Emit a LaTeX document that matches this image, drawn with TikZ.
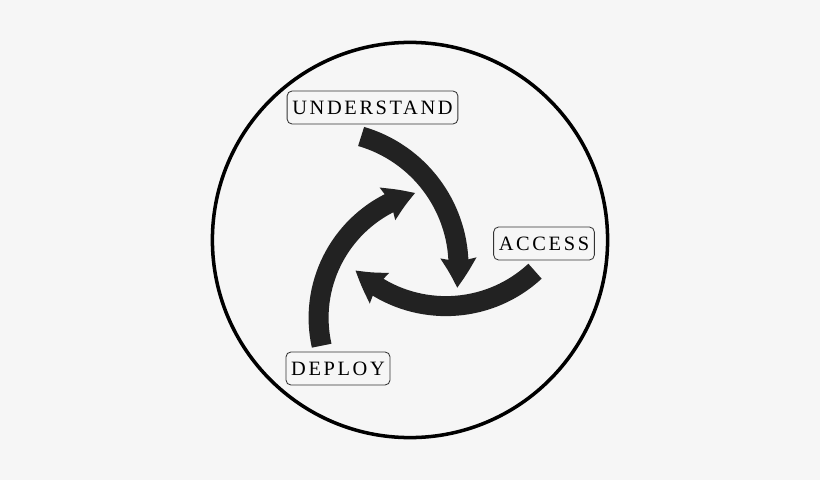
\documentclass[tikz,border=0pt]{standalone}
\usepackage{fontspec}
\setmainfont{Liberation Serif}[LetterSpace = 13]
\usetikzlibrary{arrows.meta, bending}
\definecolor{bgcolor}{HTML}{F6F6F6}
\definecolor{arrowcolor}{HTML}{222222}

\begin{document}
\begin{tikzpicture}
	% Background and size of the picture
	\useasboundingbox[fill = bgcolor] (0, 0) rectangle (20.5, 12);

	% Define the coordinates of the circle and of the arc centres
	\coordinate (O) at (10.25, 6.0);
	\coordinate (C1) at (8.078, 5.34);
	\coordinate (C2) at (11.148, 7.625);
	\coordinate (C3) at (11.178, 4.053);

	% Draw the outer circle
	\draw[line width = 2.5pt] (O) circle (4.94);

	% Custom style for the thick curved arrows
	\tikzset{cycle arrow/.style = {arrowcolor, line width = 0.5cm, -{Stealth[length = 7.4mm, width = 8.6mm, inset = 0.8mm, bend]}}}

	% Draw the three curved arrows
	\draw[cycle arrow] ([shift = (73.7:3.385)] C1) arc[start angle = 73.7, end angle = -9.1, radius = 3.385];
	\draw[cycle arrow] ([shift = (-47.2:3.278)] C2) arc[start angle = -47.2, end angle = -133.5, radius = 3.278];
	\draw[cycle arrow] ([shift = (192.5:3.213)] C3) arc[start angle = 192.5, end angle = 104.3, radius = 3.213];

	% Custom style for the labels
	\tikzset{label box/.style = {draw = black!80, line width = 0.6pt, rounded corners = 3.5pt, fill = bgcolor, font = \fontsize{14.5}{16}\selectfont, minimum height = 0.825cm, inner xsep = 0.13cm}}

	% Draw the labels
	\node[label box] (understand) at (9.3125, 9.3125) {UNDERSTAND};
	\node[label box] (access) at (13.6, 5.9125) {ACCESS};
	\node[label box] (deploy) at (8.45, 2.7875) {DEPLOY};

\end{tikzpicture}
\end{document}
